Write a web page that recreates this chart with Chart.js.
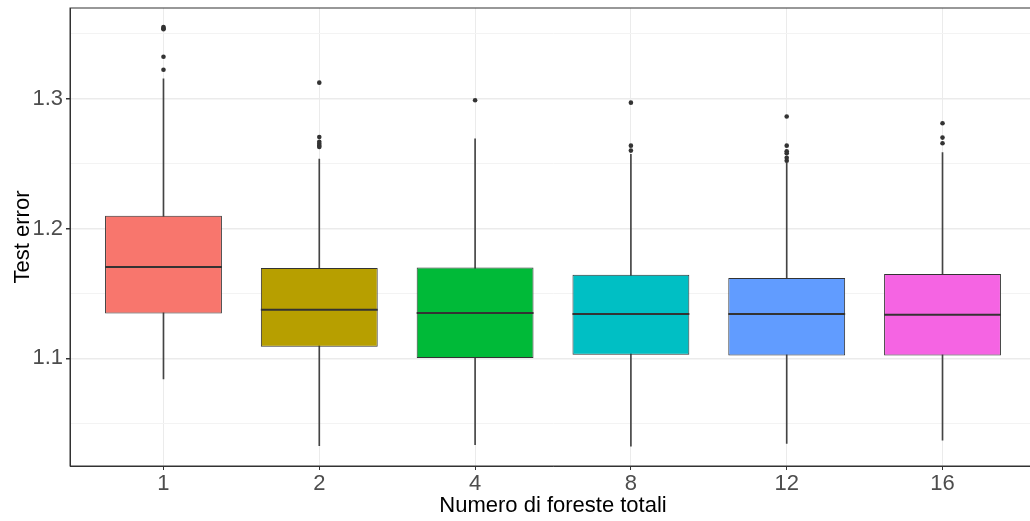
<!DOCTYPE html>
<html>
<head>
<meta charset="utf-8">
<title>Test error per numero di foreste</title>
<script src="https://cdn.jsdelivr.net/npm/chart.js@4.4.1/dist/chart.umd.min.js"></script>
<style>
  html, body { margin: 0; padding: 0; background: #ffffff; overflow: hidden; }
  /* The panel runs slightly past the right edge of the window, as in the original figure */
  #wrap { width: 1040px; height: 521px; position: relative; }
</style>
</head>
<body>
<div id="wrap"><canvas id="chart"></canvas></div>
<script>
// Number of total forests (categories on the x axis)
const categories = ['1', '2', '4', '8', '12', '16'];

// Box-plot summaries of the test error per category
const lowerWhisker = [1.0841, 1.0328, 1.0336, 1.0323, 1.0344, 1.0369];
const q1           = [1.1346, 1.1090, 1.1003, 1.1028, 1.1021, 1.1021];
const medians      = [1.1703, 1.1375, 1.1349, 1.1341, 1.1341, 1.1336];
const q3           = [1.2098, 1.1695, 1.1700, 1.1644, 1.1618, 1.1649];
const upperWhisker = [1.3152, 1.2534, 1.2690, 1.2572, 1.2505, 1.2585];

// Points beyond the whiskers
const outliers = [
  [1.3552, 1.3543, 1.3535, 1.3323, 1.3223],
  [1.3123, 1.2705, 1.2668, 1.2652, 1.2638, 1.2628],
  [1.2988],
  [1.2969, 1.2638, 1.2600],
  [1.2862, 1.2638, 1.2595, 1.2580, 1.2545, 1.2522],
  [1.2810, 1.2700, 1.2657]
];

const boxColors = ['#F8766D', '#B79F00', '#00BA38', '#00BFC4', '#619CFF', '#F564E3'];

// Labelled (major) and unlabelled (minor) y ticks
const yMajorTicks = [1.1, 1.2, 1.3];
const yMinorTicks = [1.05, 1.15, 1.25, 1.35];

const FONT = "'Liberation Sans', Arial, sans-serif";
const INK = '#333333';

const isMajorY = v => yMajorTicks.some(t => Math.abs(t - v) < 1e-9);

const boxData = categories.map((c, i) => ({ x: i + 1, y: [q1[i], q3[i]] }));
const whiskerData = categories.map((c, i) => ({ x: i + 1, y: [lowerWhisker[i], upperWhisker[i]] }));
const outlierData = outliers.flatMap((vals, i) => vals.map(v => ({ x: i + 1, y: v })));

// Median segment across each box
const medianLines = {
  id: 'medianLines',
  afterDatasetsDraw(chart) {
    const meta = chart.getDatasetMeta(0);
    const yScale = chart.scales.y;
    const ctx = chart.ctx;
    ctx.save();
    ctx.strokeStyle = INK;
    ctx.lineWidth = 2;
    meta.data.forEach((el, i) => {
      const py = yScale.getPixelForValue(medians[i]);
      ctx.beginPath();
      ctx.moveTo(el.x - el.width / 2, py);
      ctx.lineTo(el.x + el.width / 2, py);
      ctx.stroke();
    });
    ctx.restore();
  }
};

// Full frame round the plotting panel
const panelBorder = {
  id: 'panelBorder',
  afterDraw(chart) {
    const a = chart.chartArea;
    const ctx = chart.ctx;
    ctx.save();
    ctx.strokeStyle = INK;
    ctx.lineWidth = 1;
    ctx.strokeRect(a.left, a.top, a.right - a.left, a.bottom - a.top);
    ctx.restore();
  }
};

new Chart(document.getElementById('chart'), {
  type: 'bar',
  data: {
    datasets: [
      {
        label: 'box',
        data: boxData,
        backgroundColor: boxColors,
        borderColor: INK,
        borderWidth: 1,
        borderSkipped: false,
        grouped: false,
        barPercentage: 0.75,
        categoryPercentage: 1,
        order: 1
      },
      {
        label: 'whisker',
        data: whiskerData,
        backgroundColor: '#444444',
        borderWidth: 0,
        barThickness: 1,
        grouped: false,
        order: 2
      },
      {
        type: 'scatter',
        label: 'outlier',
        data: outlierData,
        backgroundColor: INK,
        borderWidth: 0,
        pointRadius: 2.3,
        order: 0
      }
    ]
  },
  options: {
    responsive: true,
    maintainAspectRatio: false,
    animation: false,
    layout: { padding: { top: 8, right: 0, bottom: 0, left: 0 } },
    plugins: {
      legend: { display: false },
      tooltip: { enabled: false }
    },
    scales: {
      x: {
        type: 'linear',
        offset: false,
        min: 0.4,
        max: 6.6,
        afterBuildTicks(scale) {
          scale.ticks = categories.map((c, i) => ({ value: i + 1 }));
        },
        afterFit(scale) {
          scale.height = 55;
          scale.paddingLeft = 0;
          scale.paddingRight = 0;
        },
        ticks: {
          autoSkip: false,
          maxRotation: 0,
          padding: 1,
          color: '#4D4D4D',
          font: { family: FONT, size: 22 },
          callback: v => categories[Math.round(v) - 1]
        },
        grid: {
          offset: false,
          color: '#EBEBEB',
          lineWidth: 1,
          tickLength: 4,
          tickColor: INK
        },
        border: { display: true, color: INK, width: 1 },
        title: {
          display: true,
          text: 'Numero di foreste totali',
          color: '#000000',
          font: { family: FONT, size: 22 },
          padding: { top: 0, bottom: 2 }
        }
      },
      y: {
        type: 'linear',
        min: 1.0171,
        max: 1.3698,
        afterBuildTicks(scale) {
          scale.ticks = [...yMajorTicks, ...yMinorTicks]
            .sort((a, b) => a - b)
            .map(v => ({ value: v }));
        },
        afterFit(scale) {
          scale.width = 70;
          scale.paddingTop = 0;
          scale.paddingBottom = 0;
        },
        ticks: {
          padding: 3,
          color: '#4D4D4D',
          font: { family: FONT, size: 22 },
          callback: v => (isMajorY(v) ? v.toFixed(1) : '')
        },
        grid: {
          color: ctx => (isMajorY(ctx.tick.value) ? '#EBEBEB' : '#F3F3F3'),
          lineWidth: ctx => (isMajorY(ctx.tick.value) ? 1.5 : 1),
          tickLength: 4,
          tickColor: ctx => (isMajorY(ctx.tick.value) ? INK : 'rgba(0,0,0,0)')
        },
        border: { display: true, color: INK, width: 1 },
        title: {
          display: true,
          text: 'Test error',
          color: '#000000',
          font: { family: FONT, size: 22 },
          padding: { top: 10, bottom: 0 }
        }
      }
    }
  },
  plugins: [medianLines, panelBorder]
});
</script>
</body>
</html>
